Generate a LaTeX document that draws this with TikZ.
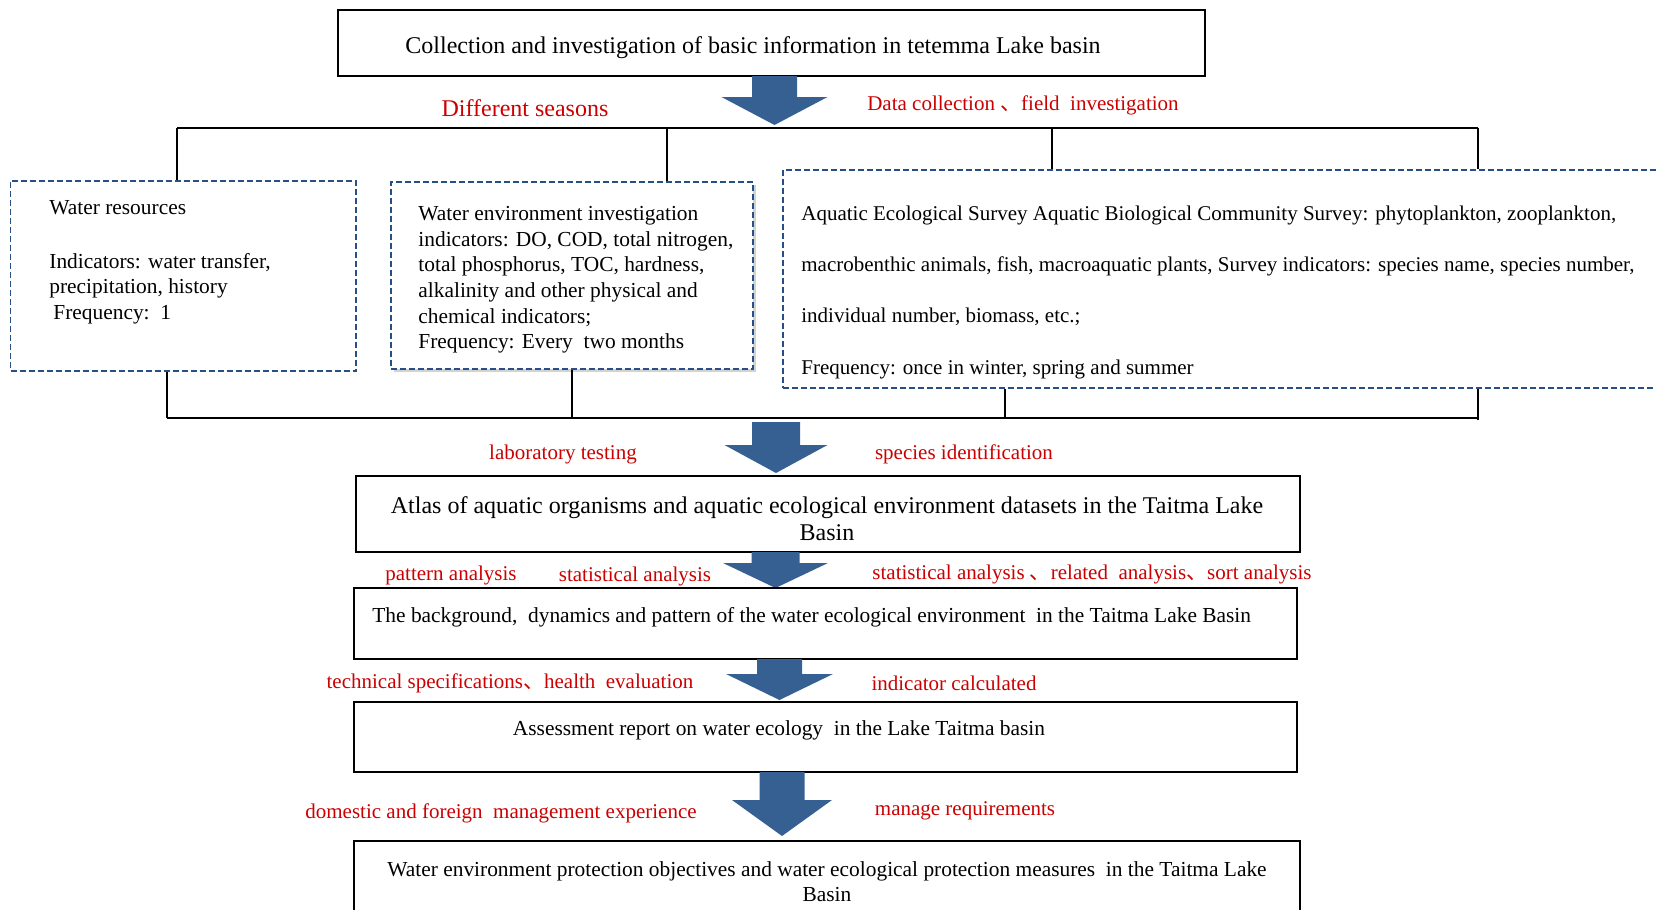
\documentclass[tikz,border=0pt]{standalone}
\usepackage{fontspec}
\setmainfont{Liberation Serif}
\newfontfamily\cjk{Noto Sans CJK SC}
\usetikzlibrary{fit,shadows}
\definecolor{arrowblue}{RGB}{55,96,146}
\definecolor{labred}{RGB}{204,0,0}
\definecolor{dashblue}{RGB}{40,78,135}
\newcommand\bigarr[6]{% cx, top, headstart, tip, shaft half, head half
  \fill[arrowblue] (#1-#5,#2) -- (#1+#5,#2) -- (#1+#5,#3) -- (#1+#6,#3) -- (#1,#4) -- (#1-#6,#3) -- (#1-#5,#3) -- cycle;}
\begin{document}
\begin{tikzpicture}[x=0.5pt,y=-0.5pt,
  blackbox/.style={draw=black, line width=1pt, inner sep=0pt},
  dashbox/.style={draw=dashblue, line width=0.8pt, dash pattern=on 3pt off 1.5pt, inner sep=0pt},
  bracket/.style={draw=black, line width=1pt},
  txtbig/.style={inner sep=0pt, yshift=-1.5pt, font=\fontsize{12}{14}\selectfont},
  txt/.style={inner sep=0pt, yshift=-1.5pt, font=\fontsize{10.7}{12.8}\selectfont},
  redlab/.style={inner sep=0pt, yshift=-1.5pt, text=labred, font=\fontsize{10.5}{12.6}\selectfont},
  bigred/.style={inner sep=0pt, yshift=-1pt, text=labred, font=\fontsize{12}{14}\selectfont}]
\useasboundingbox (0,0) rectangle (1656,910);
\fill[white] (0,0) rectangle (1656,910);

% top box
\node[blackbox, fit={(338,10)(1205,76)}] (topbox) {};
\node[txtbig] (toptext) at (753,45) {Collection and investigation of basic information in tetemma Lake basin};

\bigarr{774.5}{76}{97}{125}{22.5}{53}
\node[bigred] (seasons) at (525,106) {Different seasons};
\node[redlab] (datacol) at (1023,102) {Data collection {\cjk 、}field\ \ investigation};

% survey boxes
\node[dashbox, fit={(10.5,181)(356,371)}] (b1) {};
\node[dashbox, fill=white, drop shadow={shadow xshift=1.5pt, shadow yshift=-1.5pt, opacity=0.35}, fit={(391,182)(753,369)}] (b2) {};
\node[dashbox, fit={(783,170)(1700,388)}] (b3) {};

\node[txt, anchor=west, align=left] (b1text) at (49,259) {Water resources\\[14.2pt]Indicators: water transfer,\\precipitation, history\\\hspace{2pt}Frequency:\ \ 1};
\node[txt, anchor=west, align=left] (b2text) at (418,277) {Water environment investigation\\indicators: DO, COD, total nitrogen,\\total phosphorus, TOC, hardness,\\alkalinity and other physical and\\chemical indicators;\\Frequency: Every\ \ two months};
\node[inner sep=0pt, yshift=-1.5pt, anchor=west, align=left, font=\fontsize{10.5}{25.67}\selectfont] (b3text) at (801,289) {Aquatic Ecological Survey Aquatic Biological Community Survey: phytoplankton, zooplankton,\\macrobenthic animals, fish, macroaquatic plants, Survey indicators: species name, species number,\\individual number, biomass, etc.;\\Frequency: once in winter, spring and summer};

% top bracket
\coordinate (tb1) at (177,128);
\coordinate (tb2) at (667,128);
\coordinate (tb3) at (1052,128);
\coordinate (tb4) at (1478,128);
\draw[bracket] (tb1) -- (tb4);
\draw[bracket] (tb1) -- (tb1 |- b1.north);
\draw[bracket] (tb2) -- (tb2 |- b2.north);
\draw[bracket] (tb3) -- (tb3 |- b3.north);
\draw[bracket] (tb4) -- (tb4 |- b3.north);

% lower bracket
\coordinate (lb1) at (167,418);
\coordinate (lb2) at (572,418);
\coordinate (lb3) at (1005,418);
\coordinate (lb4) at (1478,418);
\draw[bracket] (lb1) -- (lb4);
\draw[bracket] (b1.south -| lb1) -- (lb1);
\draw[bracket] (b2.south -| lb2) -- (lb2);
\draw[bracket] (b3.south -| lb3) -- (lb3);
\draw[bracket] (b3.south -| lb4) -- ([yshift=-1pt]lb4);

\bigarr{776}{422}{445}{473}{24}{51.5}
\node[redlab] (lab1) at (563,451) {laboratory testing};
\node[redlab] (lab2) at (964,451) {species identification};

% atlas box
\node[blackbox, fit={(356,476)(1300,552)}] (atlas) {};
\node[inner sep=0pt, yshift=-1.5pt, align=center, font=\fontsize{12}{13.8}\selectfont] (atlastext) at (827,515.5) {Atlas of aquatic organisms and aquatic ecological environment datasets in the Taitma Lake\\Basin};

\bigarr{775.5}{552}{563}{588}{24}{52.5}
\node[redlab] (lab3) at (451,572) {pattern analysis};
\node[redlab] (lab4) at (635,573) {statistical analysis};
\node[redlab] (lab5) at (1092,571) {statistical analysis {\cjk 、}related\ \ analysis{\cjk 、}sort analysis};

% background box
\node[blackbox, fit={(354,588)(1297,659)}] (bg) {};
\node[txt, anchor=west] (bgtext) at (372,614) {The background,\ \ dynamics and pattern of the water ecological environment\ \ in the Taitma Lake Basin};

\bigarr{779.5}{659}{674}{700}{22.5}{53.5}
\node[redlab] (lab6) at (510,680) {technical specifications{\cjk 、}health\ \ evaluation};
\node[redlab] (lab7) at (954,680) {indicator calculated};

% assessment box
\node[blackbox, fit={(354,702)(1297,772)}] (assess) {};
\node[txt] (assesstext) at (779,727) {Assessment report on water ecology\ \ in the Lake Taitma basin};

\bigarr{782}{772}{800}{836}{22.5}{50}
\node[redlab] (lab8) at (501,810) {domestic and foreign\ \ management experience};
\node[redlab] (lab9) at (965,808) {manage requirements};

% final box
\node[blackbox, fit={(354,841)(1300,960)}] (final) {};
\node[txt, align=center, font=\fontsize{10.7}{12.5}\selectfont] (finaltext) at (827,878.5) {Water environment protection objectives and water ecological protection measures\ \ in the Taitma Lake\\Basin};
\end{tikzpicture}
\end{document}
